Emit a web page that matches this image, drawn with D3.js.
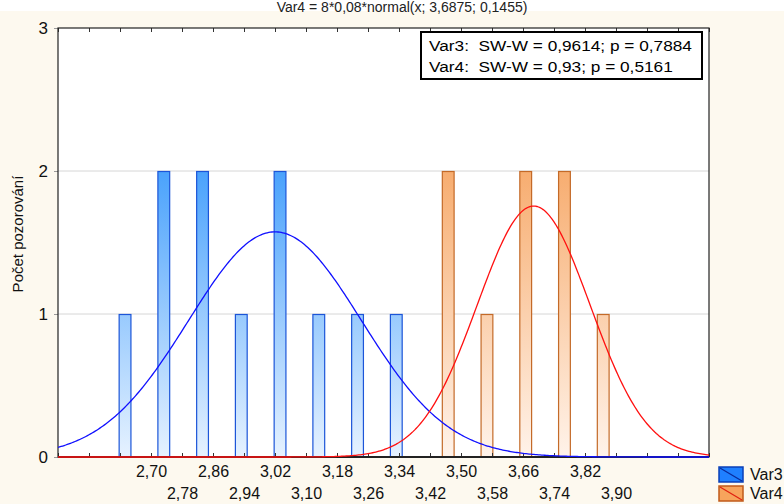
<!DOCTYPE html>
<html>
<head>
<meta charset="utf-8">
<script src="https://cdn.jsdelivr.net/npm/d3@7"></script>
<style>
  html, body { margin: 0; padding: 0; background: #fff; }
  svg { display: block; font-family: "Liberation Sans", Arial, sans-serif; }
</style>
</head>
<body>
<div id="chart"></div>
<script>
// histogram bars (bin centres) and counts
const var3Bins = [2.633, 2.733, 2.833, 2.933, 3.033, 3.133, 3.233, 3.333];
const var3Counts = [1, 2, 2, 1, 2, 1, 1, 1];
const var4Bins = [3.467, 3.567, 3.667, 3.767, 3.867];
const var4Counts = [2, 1, 2, 2, 1];

// fitted normal curves: n * binWidth * normal(x; mean, sd)
const var3Fit = { n: 11, bw: 0.08, mean: 3.02, sd: 0.223 };
const var4Fit = { n: 8, bw: 0.08, mean: 3.6875, sd: 0.1455 };

// axis ticks
const xTickValues = [2.46, 2.54, 2.62, 2.70, 2.78, 2.86, 2.94, 3.02, 3.10, 3.18, 3.26, 3.34,
  3.42, 3.50, 3.58, 3.66, 3.74, 3.82, 3.90, 3.98, 4.06, 4.14];
const xTickLabels = ["", "", "", "2,70", "2,78", "2,86", "2,94", "3,02", "3,10", "3,18", "3,26", "3,34",
  "3,42", "3,50", "3,58", "3,66", "3,74", "3,82", "3,90", "", "", ""];
const yTickValues = [0, 1, 2, 3];
const statsLines = ["Var3:  SW-W = 0,9614; p = 0,7884", "Var4:  SW-W = 0,93; p = 0,5161"];
const legendNames = ["Var3", "Var4"];
const title = "Var4 = 8*0,08*normal(x; 3,6875; 0,1455)";

const W = 784, H = 504;
const L = 58, R = 709, T = 28, B = 457;
const barW = 0.033;

const svg = d3.select("#chart").append("svg").attr("width", W).attr("height", H);

svg.append("rect").attr("width", W).attr("height", H).attr("fill", "#fdf9ef");
svg.append("rect").attr("width", W).attr("height", 11).attr("fill", "#ffffff");
svg.append("text").attr("x", 402).attr("y", 12).attr("text-anchor", "middle")
  .attr("font-size", 14).attr("fill", "#222").text(title);

const x = d3.scaleLinear().domain([2.46, 4.14]).range([L, R]);
const y = d3.scaleLinear().domain([0, 3]).range([B, T]);

svg.append("rect").attr("x", L).attr("y", T).attr("width", R - L).attr("height", B - T).attr("fill", "#fff");

// gradients
const defs = svg.append("defs");
function grad(id, top, bottom) {
  const g = defs.append("linearGradient").attr("id", id)
    .attr("gradientUnits", "userSpaceOnUse")
    .attr("x1", 0).attr("x2", 0).attr("y1", y(2)).attr("y2", y(0));
  g.append("stop").attr("offset", 0).attr("stop-color", top);
  g.append("stop").attr("offset", 1).attr("stop-color", bottom);
}
grad("gBlue", "#4aa2fc", "#e6f2ff");
grad("gOrange", "#f7ad70", "#fff3ea");
defs.append("clipPath").attr("id", "plotClip")
  .append("rect").attr("x", L).attr("y", T - 1).attr("width", R - L).attr("height", B - T + 2);

// grid
svg.append("g").selectAll("line").data([1, 2]).join("line")
  .attr("x1", L).attr("x2", R).attr("y1", d => y(d)).attr("y2", d => y(d))
  .attr("stroke", "#d6d6d6").attr("stroke-width", 1);

// bars
function bars(bins, counts, fill, stroke) {
  svg.append("g").selectAll("rect").data(bins.map((b, i) => ({ b, c: counts[i] }))).join("rect")
    .attr("x", d => x(d.b - barW / 2) + 0.5)
    .attr("y", d => y(d.c) + 0.5)
    .attr("width", d => x(d.b + barW / 2) - x(d.b - barW / 2) - 1)
    .attr("height", d => y(0) - y(d.c) - 0.5)
    .attr("fill", fill).attr("stroke", stroke).attr("stroke-width", 1.2);
}
bars(var3Bins, var3Counts, "url(#gBlue)", "#1c55d8");
bars(var4Bins, var4Counts, "url(#gOrange)", "#c46a28");

// axes
const xb = svg.append("g").attr("transform", `translate(0,${B})`)
  .call(d3.axisBottom(x).tickValues(xTickValues).tickSize(-4).tickFormat((d, i) => xTickLabels[i]));
xb.select(".domain").remove();
xb.attr("font-size", 16).attr("font-family", null);
xb.selectAll("text").attr("dy", null).attr("font-size", 16).attr("fill", "#111")
  .attr("y", (d, i) => (i % 2 === 1 ? 20 : 42));
xb.selectAll("line").attr("stroke", "#333");

const xt = svg.append("g").attr("transform", `translate(0,${T})`)
  .call(d3.axisTop(x).tickValues(xTickValues).tickSize(-4).tickFormat(""));
xt.select(".domain").remove();
xt.selectAll("line").attr("stroke", "#333");

const yl = svg.append("g").attr("transform", `translate(${L},0)`)
  .call(d3.axisLeft(y).tickValues(yTickValues).tickSize(4).tickFormat(d3.format("d")));
yl.select(".domain").remove();
yl.attr("font-size", 17).attr("font-family", null);
yl.selectAll("line").attr("stroke", "#999");
yl.selectAll("text").attr("font-size", 17).attr("fill", "#111").attr("x", -10);

// frame
svg.append("rect").attr("x", L).attr("y", T).attr("width", R - L).attr("height", B - T)
  .attr("fill", "none").attr("stroke", "#222").attr("stroke-width", 1.2);
svg.append("line").attr("x1", L).attr("x2", R).attr("y1", B).attr("y2", B)
  .attr("stroke", "#222").attr("stroke-width", 2);

// fitted curves
function curve(fit, color) {
  const xs = d3.range(2.46, 4.1401, 0.004);
  const f = v => fit.n * fit.bw * Math.exp(-0.5 * ((v - fit.mean) / fit.sd) ** 2) / (fit.sd * Math.sqrt(2 * Math.PI));
  svg.append("path").datum(xs)
    .attr("clip-path", "url(#plotClip)")
    .attr("d", d3.line().x(d => x(d)).y(d => y(f(d))))
    .attr("fill", "none").attr("stroke", color).attr("stroke-width", 1.3);
}
curve(var3Fit, "#1010ff");
curve(var4Fit, "#ff1010");

// stats box
svg.append("rect").attr("x", 421).attr("y", 32).attr("width", 281).attr("height", 47)
  .attr("fill", "#fff").attr("stroke", "#000").attr("stroke-width", 2);
svg.append("g").selectAll("text").data(statsLines).join("text")
  .attr("transform", (d, i) => `translate(429,${51 + i * 21}) scale(1.15,1)`)
  .attr("font-size", 15).attr("fill", "#000").attr("xml:space", "preserve")
  .style("white-space", "pre").text(d => d);

// legend
const leg = svg.append("g");
const swFill = ["#1f80ff", "#f7a45c"], swStroke = ["#0a3fb8", "#c05a1a"], swDiag = ["#0a2a9a", "#e02010"];
legendNames.forEach((name, i) => {
  const yy = 467 + i * 19;
  leg.append("rect").attr("x", 719).attr("y", yy).attr("width", 24).attr("height", 15)
    .attr("fill", swFill[i]).attr("stroke", swStroke[i]).attr("stroke-width", 1.5);
  leg.append("line").attr("x1", 720).attr("y1", yy + 1).attr("x2", 742).attr("y2", yy + 14)
    .attr("stroke", swDiag[i]).attr("stroke-width", 1.2);
  leg.append("text").attr("x", 750).attr("y", yy + 13).attr("font-size", 16).attr("fill", "#111").text(name);
});

// y label
svg.append("text").attr("transform", "translate(23,234) rotate(-90)").attr("text-anchor", "middle")
  .attr("font-size", 15).attr("fill", "#111").text("Počet pozorování");
</script>
</body>
</html>
